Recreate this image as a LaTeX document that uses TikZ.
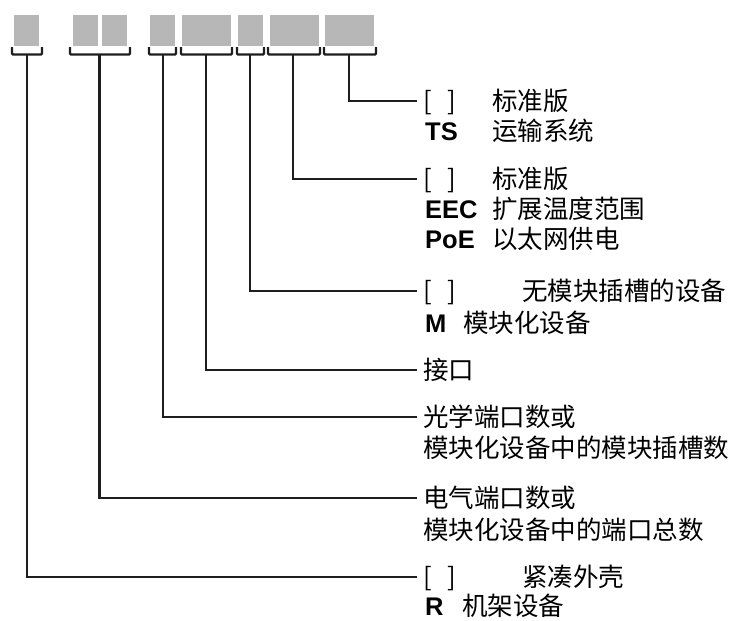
\documentclass[tikz,border=0pt]{standalone}
\usepackage{fontspec}
\newfontfamily\cjk{Noto Sans CJK SC}
\newfontfamily\lat{Liberation Sans}
\definecolor{boxgray}{HTML}{B7B7B7}
\definecolor{linec}{HTML}{1E1E1E}
\begin{document}
\begin{tikzpicture}[x=1pt,y=-1pt,
  box/.style={fill=boxgray,draw=none,inner sep=0pt,minimum height=31pt},
  brk/.style={line width=2.2pt,draw=linec,rounded corners=1pt},
  conn/.style={line width=2.2pt,draw=linec},
  lbl/.style={anchor=west,inner sep=0pt,font=\cjk\fontsize{25.5}{30}\selectfont,text height=21pt,text depth=2pt},
  first/.style={lbl,inner xsep=6pt},
  key/.style={anchor=west,inner sep=0pt,font=\lat\bfseries\fontsize{25.5}{30}\selectfont,text height=21pt,text depth=2pt}
]
\useasboundingbox (0,0) rectangle (734,621);
% boxes
\node[box,minimum width=25pt] (c1) at (26.5,30.5) {};
\node[box,minimum width=25pt] (c2) at (85.5,30.5) {};
\node[box,minimum width=25pt] (c3) at (114.5,30.5) {};
\node[box,minimum width=25pt] (c4) at (162.5,30.5) {};
\node[box,minimum width=49pt] (c5) at (206.5,30.5) {};
\node[box,minimum width=25pt] (c6) at (250.5,30.5) {};
\node[box,minimum width=49pt] (c7) at (294.5,30.5) {};
\node[box,minimum width=49pt] (c8) at (349.5,30.5) {};
% brackets
\draw[brk] (12,47) -- (12,54.5) -- (42,54.5) -- (42,47);
\draw[brk] (70,47) -- (70,54.5) -- (130,54.5) -- (130,47);
\draw[brk] (149,47) -- (149,54.5) -- (176,54.5) -- (176,47);
\draw[brk] (181,47) -- (181,54.5) -- (232,54.5) -- (232,47);
\draw[brk] (237,47) -- (237,54.5) -- (264,54.5) -- (264,47);
\draw[brk] (268,47) -- (268,54.5) -- (320,54.5) -- (320,47);
\draw[brk] (324,47) -- (324,54.5) -- (376,54.5) -- (376,47);
\coordinate (v1) at (26.7,54.5);
\coordinate (v2) at (99.5,54.5);
\coordinate (v3) at (163,54.5);
\coordinate (v4) at (206,54.5);
\coordinate (v5) at (250,54.5);
\coordinate (v6) at (293,54.5);
\coordinate (v7) at (349,54.5);
% group 7
\node[first] (t7) at (417,101) {[\hspace{16pt}]};
\node[lbl] (t7b) at (492,101) {标准版};
\node[key] (t7c) at (425,131) {TS};
\node[lbl] (t7d) at (492,131) {运输系统};
% group 6
\node[first] (t6) at (417,179) {[\hspace{16pt}]};
\node[lbl] (t6b) at (492,179) {标准版};
\node[key] (t6c) at (425,209) {EEC};
\node[lbl] (t6d) at (492,209) {扩展温度范围};
\node[key] (t6e) at (425,239) {PoE};
\node[lbl] (t6f) at (492,239) {以太网供电};
% group 5
\node[first] (t5) at (417,291) {[\hspace{16pt}]};
\node[lbl] (t5b) at (522,291) {无模块插槽的设备};
\node[key] (t5c) at (425,323) {M};
\node[lbl] (t5d) at (463,323) {模块化设备};
% group 4
\node[first] (t4) at (417,370) {接口};
% group 3
\node[first] (t3) at (417,417) {光学端口数或};
\node[lbl] (t3b) at (423,448) {模块化设备中的模块插槽数};
% group 2
\node[first] (t2) at (417,498) {电气端口数或};
\node[lbl] (t2b) at (423,530) {模块化设备中的端口总数};
% group 1
\node[first] (t1) at (417,577) {[\hspace{16pt}]};
\node[lbl] (t1b) at (522,577) {紧凑外壳};
\node[key] (t1c) at (425,606) {R};
\node[lbl] (t1d) at (462,606) {机架设备};
% connectors
\draw[conn] (v7) |- (t7.west);
\draw[conn] (v6) |- (t6.west);
\draw[conn] (v5) |- (t5.west);
\draw[conn] (v4) |- (t4.west);
\draw[conn] (v3) |- (t3.west);
\draw[conn] (v2) |- (t2.west);
\draw[conn] (v1) |- (t1.west);
\end{tikzpicture}
\end{document}
